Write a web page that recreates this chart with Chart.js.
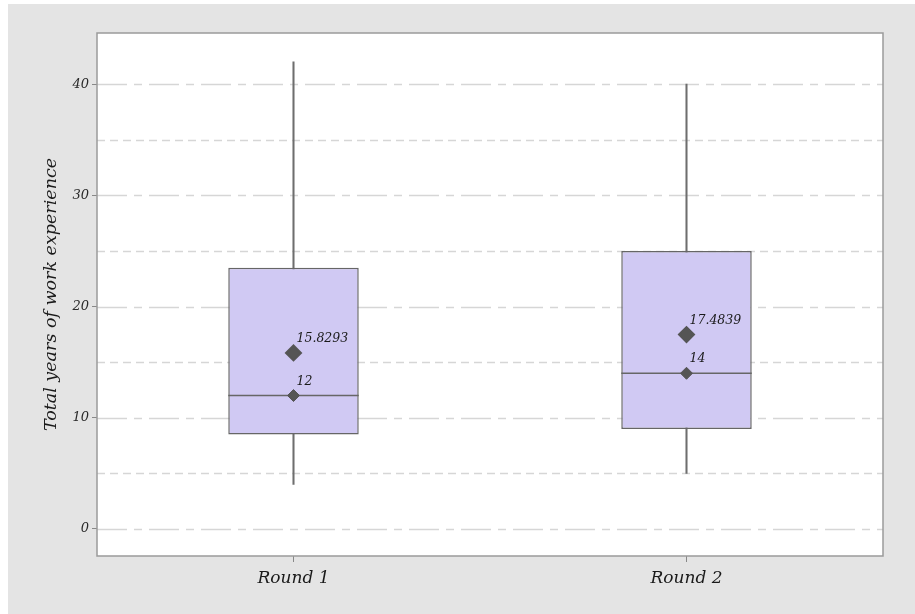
<!DOCTYPE html>
<html>
<head>
<meta charset="utf-8">
<script src="https://cdn.jsdelivr.net/npm/chart.js@4.4.1/dist/chart.umd.min.js"></script>
<style>
  html, body { margin: 0; padding: 0; background: #ffffff; }
  #wrap { position: absolute; left: 8px; top: 4px; width: 907px; height: 610px; background: #e4e4e4; }
  canvas { display: block; }
</style>
</head>
<body>
<div id="wrap"><canvas id="c" width="907" height="610"></canvas></div>
<script>
// Box plot summary per round
const categories = ['Round 1', 'Round 2'];
const minValues = [4, 5];
const q1Values = [8.5, 9];
const medianValues = [12, 14];
const q3Values = [23.5, 25];
const maxValues = [42, 40];
const meanValues = [15.8293, 17.4839];

// Axis ticks and grid lines
const yTickValues = [0, 10, 20, 30, 40];
const yMinorGrid = [5, 15, 25, 35];
const yRange = [-2.43, 44.6];

const SERIF = '"DejaVu Serif", "Liberation Serif", serif';
const EDGE = '#666666';
const MARK = '#555555';

// plot background, dashed grid lines, frame, median lines and value labels
const boxPlotExtras = {
  id: 'boxPlotExtras',
  beforeDatasetsDraw(chart) {
    const { ctx, chartArea: a, scales: { y } } = chart;
    ctx.save();
    ctx.fillStyle = '#ffffff';
    ctx.fillRect(a.left, a.top, a.right - a.left, a.bottom - a.top);
    ctx.beginPath();
    ctx.rect(a.left, a.top, a.right - a.left, a.bottom - a.top);
    ctx.clip();
    ctx.strokeStyle = '#d6d6d6';
    ctx.lineWidth = 1.5;
    const line = (v, dash) => {
      const py = Math.round(y.getPixelForValue(v)) + 0.5;
      ctx.setLineDash(dash);
      ctx.beginPath();
      ctx.moveTo(a.left, py);
      ctx.lineTo(a.right, py);
      ctx.stroke();
    };
    yTickValues.forEach(v => line(v, [30, 7, 8, 7]));
    yMinorGrid.forEach(v => line(v, [8, 5]));
    ctx.restore();
  },
  afterDatasetDraw(chart, args) {
    if (args.index !== 1) return;
    const { ctx, scales: { y } } = chart;
    const bars = chart.getDatasetMeta(1).data;
    ctx.save();
    ctx.strokeStyle = EDGE;
    ctx.lineWidth = 1.5;
    bars.forEach((bar, i) => {
      const py = y.getPixelForValue(medianValues[i]);
      ctx.beginPath();
      ctx.moveTo(bar.x - bar.width / 2, py);
      ctx.lineTo(bar.x + bar.width / 2, py);
      ctx.stroke();
    });
    ctx.restore();
  },
  afterDatasetsDraw(chart) {
    const { ctx, chartArea: a } = chart;
    ctx.save();
    ctx.fillStyle = '#1a1a1a';
    ctx.font = 'italic 12.5px ' + SERIF;
    ctx.textAlign = 'left';
    ctx.textBaseline = 'alphabetic';
    [[2, medianValues], [3, meanValues]].forEach(([idx, vals]) => {
      chart.getDatasetMeta(idx).data.forEach((pt, i) => {
        ctx.fillText(String(vals[i]), pt.x + 3, pt.y - 11);
      });
    });
    ctx.strokeStyle = '#9a9a9a';
    ctx.lineWidth = 1.5;
    ctx.setLineDash([]);
    ctx.strokeRect(a.left, a.top, a.right - a.left, a.bottom - a.top);
    ctx.restore();
  }
};

new Chart(document.getElementById('c'), {
  data: {
    labels: categories,
    datasets: [
      {
        type: 'bar',
        label: 'whisker',
        data: minValues.map((v, i) => [v, maxValues[i]]),
        backgroundColor: '#6e6e6e',
        borderWidth: 0,
        barThickness: 1.4,
        grouped: false,
        order: 4
      },
      {
        type: 'bar',
        label: 'box',
        data: q1Values.map((v, i) => [v, q3Values[i]]),
        backgroundColor: '#d0c9f3',
        borderColor: EDGE,
        borderWidth: 1.5,
        borderSkipped: false,
        categoryPercentage: 1,
        barPercentage: 0.332,
        grouped: false,
        order: 3
      },
      {
        type: 'line',
        label: 'median',
        data: medianValues,
        showLine: false,
        pointStyle: 'rectRot',
        pointRadius: 6,
        pointBackgroundColor: MARK,
        pointBorderColor: MARK,
        pointBorderWidth: 1,
        order: 1
      },
      {
        type: 'line',
        label: 'mean',
        data: meanValues,
        showLine: false,
        pointStyle: 'rectRot',
        pointRadius: 7.5,
        pointBackgroundColor: MARK,
        pointBorderColor: MARK,
        pointBorderWidth: 2,
        order: 0
      }
    ]
  },
  options: {
    responsive: false,
    animation: false,
    devicePixelRatio: 1,
    layout: { padding: { left: 0, top: 29, right: 32, bottom: 0 } },
    plugins: { legend: { display: false }, tooltip: { enabled: false } },
    scales: {
      x: {
        type: 'category',
        offset: true,
        grid: { display: true, drawOnChartArea: false, drawTicks: true, tickLength: 6, color: '#888888', offset: false },
        border: { display: false },
        ticks: { color: '#1a1a1a', padding: 6, font: { family: SERIF, size: 17, style: 'italic' } },
        afterBuildTicks(scale) { scale.ticks = categories.map((c, i) => ({ value: i })); },
        afterFit(scale) { scale.height = 58; }
      },
      y: {
        type: 'linear',
        min: yRange[0],
        max: yRange[1],
        grid: { display: true, drawOnChartArea: false, drawTicks: true, tickLength: 5, color: '#888888' },
        border: { display: false },
        ticks: { color: '#2a2a2a', padding: 3, font: { family: SERIF, size: 13, style: 'italic' } },
        afterBuildTicks(scale) { scale.ticks = yTickValues.map(v => ({ value: v })); },
        afterFit(scale) { scale.width = 89; },
        title: {
          display: true,
          text: 'Total years of work experience',
          color: '#1a1a1a',
          padding: { top: 33, bottom: 0 },
          font: { family: SERIF, size: 17.5, style: 'italic' }
        }
      }
    }
  },
  plugins: [boxPlotExtras]
});
</script>
</body>
</html>
